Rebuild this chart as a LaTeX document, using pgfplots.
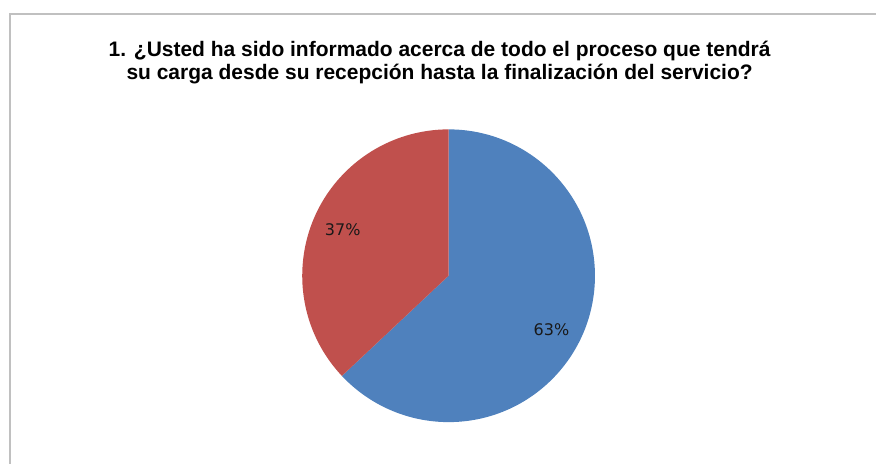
\documentclass[border=0pt]{standalone}
\usepackage{pgfplots}
\usepackage{pgfplotstable}
\pgfplotsset{compat=1.18}
\usepackage{fontspec}
\setmainfont{Liberation Sans}
\newfontfamily\labelfont{DejaVu Sans}
\definecolor{pieblue}{HTML}{4F81BD}
\definecolor{piered}{HTML}{C0504D}
\definecolor{framegray}{HTML}{C0C0C0}
\pgfplotstableread{
label value
Si 63
No 37
}\piedata
\begin{document}
\begin{tikzpicture}
\begin{axis}[
  width=877pt, height=464pt, scale only axis,
  xmin=0, xmax=877, ymin=0, ymax=464,
  hide axis, clip=false,
]
\pgfplotstablegetelem{0}{value}\of\piedata \edef\va{\pgfplotsretval}
\pgfplotstablegetelem{1}{value}\of\piedata \edef\vb{\pgfplotsretval}
\pgfmathsetmacro{\angA}{90-3.6*\va}
% bounding box
\path (axis cs:0,0) rectangle (axis cs:877,464);
% frame
\draw[framegray, line width=1.6pt] (axis cs:10,0) -- (axis cs:10,450) -- (axis cs:877,450);
% pie
\fill[pieblue] (axis cs:449,188) -- ++(90:146.5pt) arc[start angle=90, end angle=\angA, radius=146.5pt] -- cycle;
\fill[piered] (axis cs:449,188) -- ++(\angA:146.5pt) arc[start angle=\angA, end angle=-270, radius=146.5pt] -- cycle;
% labels
\node[font=\labelfont\fontsize{16}{19}\selectfont, text=black!90] at (axis cs:343,234) {\vb\%};
\node[font=\labelfont\fontsize{16}{19}\selectfont, text=black!90] at (axis cs:552,134) {\va\%};
% title
\node[anchor=base, font=\bfseries\fontsize{21}{25}\selectfont] at (axis cs:440,407) {1. ¿Usted ha sido informado acerca de todo el proceso que tendrá};
\node[anchor=base, font=\bfseries\fontsize{21}{25}\selectfont] at (axis cs:440,384) {su carga desde su recepción hasta la finalización del servicio?};
\end{axis}
\end{tikzpicture}
\end{document}
